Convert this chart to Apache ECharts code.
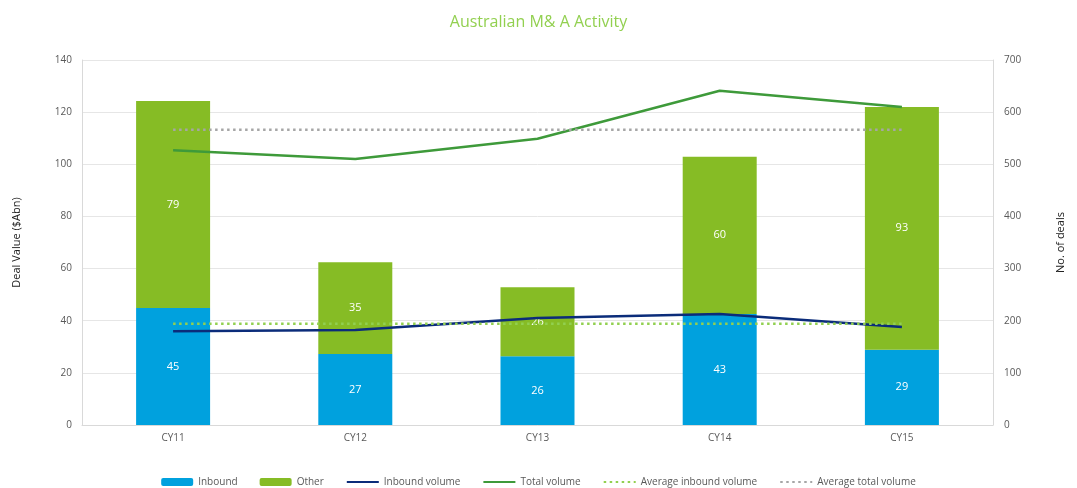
<!DOCTYPE html>
<html>
<head>
<meta charset="utf-8">
<script src="https://cdn.jsdelivr.net/npm/echarts@6/dist/echarts.min.js"></script>
<style>
  html, body { margin: 0; padding: 0; background: #fff; }
  #chart { width: 1077px; height: 488px; }
</style>
</head>
<body>
<div id="chart"></div>
<script>
// values
var years = ['CY11', 'CY12', 'CY13', 'CY14', 'CY15'];
var inbound = [44.9, 27.2, 26.4, 42.6, 28.9];
var other = [79.4, 35.2, 26.4, 60.3, 93.1];
var inboundVolume = [180, 182, 205, 213, 188];
var totalVolume = [527, 510, 549, 641, 610];
var avgInbound = [194, 194, 194, 194, 194];
var avgTotal = [566, 566, 566, 566, 566];

var font = '"Open Sans", sans-serif';
var labelGray = '#595959';

var chart = echarts.init(document.getElementById('chart'));

var barLabel = {
  show: true,
  position: 'inside',
  color: '#fff',
  fontFamily: font,
  fontSize: 11,
  formatter: function (p) { return Math.round(p.value); }
};

// line legend entries: hide the symbol, keep the line
function lineItem(name) {
  return { name: name, itemStyle: { opacity: 0 } };
}

chart.setOption({
  animation: false,
  title: {
    text: 'Australian M& A Activity',
    left: 'center',
    top: 9,
    textStyle: { color: '#92D050', fontFamily: font, fontSize: 16, fontWeight: 'normal' }
  },
  legend: {
    bottom: -4,
    left: 'center',
    itemWidth: 32,
    itemHeight: 8,
    itemGap: 22,
    textStyle: { color: labelGray, fontFamily: font, fontSize: 10 },
    data: ['Inbound', 'Other', lineItem('Inbound volume'), lineItem('Total volume'),
      lineItem('Average inbound volume'), lineItem('Average total volume')]
  },
  grid: { left: 82, right: 84, top: 60, bottom: 63 },
  xAxis: {
    type: 'category',
    data: years,
    axisLine: { lineStyle: { color: '#d9d9d9' } },
    axisTick: { show: false },
    axisLabel: { color: labelGray, fontFamily: font, fontSize: 10, margin: 8 }
  },
  yAxis: [
    {
      type: 'value',
      min: 0, max: 140, interval: 20,
      name: 'Deal Value ($Abn)',
      nameLocation: 'middle',
      nameGap: 60,
      nameTextStyle: { color: '#222', fontFamily: font, fontSize: 11 },
      axisLine: { show: true, lineStyle: { color: '#d9d9d9' } },
      axisTick: { show: false },
      axisLabel: { color: labelGray, fontFamily: font, fontSize: 10, margin: 10 },
      splitLine: { lineStyle: { color: '#e6e6e6' } }
    },
    {
      type: 'value',
      min: 0, max: 700, interval: 100,
      name: 'No. of deals',
      nameLocation: 'middle',
      nameGap: 62,
      nameTextStyle: { color: '#222', fontFamily: font, fontSize: 11 },
      axisLine: { show: true, lineStyle: { color: '#d9d9d9' } },
      axisTick: { show: false },
      axisLabel: { color: labelGray, fontFamily: font, fontSize: 10, margin: 11 },
      splitLine: { show: false }
    }
  ],
  series: [
    {
      name: 'Inbound', type: 'bar', stack: 'value', barWidth: 74,
      itemStyle: { color: '#00A1DE' },
      label: barLabel,
      data: inbound
    },
    {
      name: 'Other', type: 'bar', stack: 'value',
      itemStyle: { color: '#86BC25' },
      label: barLabel,
      data: other
    },
    {
      name: 'Inbound volume', type: 'line', yAxisIndex: 1, symbol: 'none',
      lineStyle: { color: '#0B2C7A', width: 2.5 },
      itemStyle: { color: '#0B2C7A' },
      data: inboundVolume
    },
    {
      name: 'Total volume', type: 'line', yAxisIndex: 1, symbol: 'none',
      lineStyle: { color: '#3E9A3A', width: 2.5 },
      itemStyle: { color: '#3E9A3A' },
      data: totalVolume
    },
    {
      name: 'Average inbound volume', type: 'line', yAxisIndex: 1, symbol: 'none',
      lineStyle: { color: '#92D050', width: 2.5, type: [2.5, 3.5] },
      itemStyle: { color: '#92D050' },
      data: avgInbound
    },
    {
      name: 'Average total volume', type: 'line', yAxisIndex: 1, symbol: 'none',
      lineStyle: { color: '#A6A6A6', width: 2.5, type: [2.5, 3.5] },
      itemStyle: { color: '#A6A6A6' },
      data: avgTotal
    }
  ]
});
</script>
</body>
</html>
